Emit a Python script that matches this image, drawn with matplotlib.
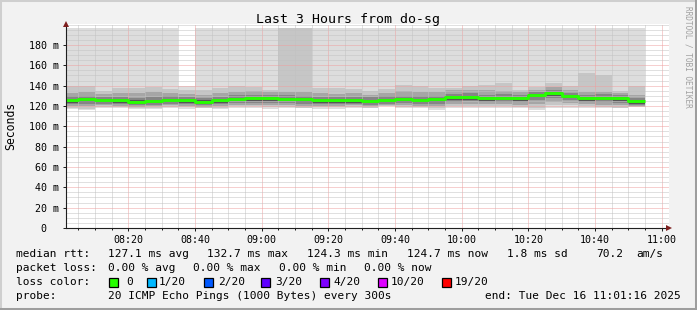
import numpy as np
import matplotlib
matplotlib.use("Agg")
import matplotlib.pyplot as plt
from matplotlib.patches import Rectangle
from matplotlib.lines import Line2D
from matplotlib.ticker import MultipleLocator

# ---------------- data ----------------
title = "Last 3 Hours from do-sg"
window_start = "08:01:16"
window_end = "11:01:16"
upper_limit_ms = 196.7

bin_start = ["08:00", "08:05", "08:10", "08:15", "08:20", "08:25", "08:30", "08:35",
             "08:40", "08:45", "08:50", "08:55", "09:00", "09:05", "09:10", "09:15",
             "09:20", "09:25", "09:30", "09:35", "09:40", "09:45", "09:50", "09:55",
             "10:00", "10:05", "10:10", "10:15", "10:20", "10:25", "10:30", "10:35",
             "10:40", "10:45", "10:50"]
bin_minutes = 5

median_ms = [125.6, 126.4, 126.1, 125.4, 124.3, 125.1, 126.1, 125.9, 124.3, 125.4,
             126.9, 127.5, 127.4, 127.1, 126.4, 125.4, 125.6, 125.5, 125.2, 126.1,
             126.7, 126.1, 126.7, 128.4, 128.7, 127.7, 128.1, 127.7, 130.8, 132.7,
             129.7, 127.7, 127.9, 127.7, 124.7]

# smoke: outermost (lightest) to innermost (darkest) ping ranges
smoke1_top = [200, 200, 200, 200, 200, 200, 200, 139.7, 200, 200, 200, 200, 200, 200,
              200, 200, 200, 200, 200, 200, 200, 200, 200, 200, 200, 200, 200, 200,
              200, 200, 200, 200, 200, 200, 200]
smoke1_bot = [117.5, 116, 118, 118.5, 117, 117, 118, 117.5, 118, 117.5, 118, 118, 117.5,
              118, 118.5, 117.5, 117.5, 118.5, 118.5, 119.5, 118.5, 118, 116.5, 118.5,
              118.5, 118.5, 118.5, 118, 116.5, 118.5, 118.5, 118.5, 118, 118, 119]
smoke2_top = [139.5, 139.5, 134.5, 137.5, 137.5, 138.5, 136.5, 135.5, 135.5, 137.5,
              139.5, 138.5, 136, 200, 200, 137.5, 137.5, 136.5, 135, 136.5, 140.5,
              139.5, 137.5, 137.5, 139.5, 140.5, 142.5, 136, 138.5, 142.5, 139.5,
              152.5, 150.5, 135, 139.5]
smoke2_bot = [118.5, 117.5, 119, 119, 118.5, 118.5, 119, 119, 118.5, 118.5, 119.5,
              119.5, 119, 119, 118.5, 119, 119, 119, 118.5, 119.5, 119, 119, 118,
              119.5, 120, 119.5, 119.5, 119, 118.5, 120.5, 120.5, 119.5, 119, 118.5, 119]
smoke3_top = [133, 134, 131.5, 133, 132.5, 133.5, 133, 132, 131, 133, 134, 134.5, 133.5,
              133.5, 134, 132.5, 132, 132.5, 131, 132.5, 134.5, 134, 133.5, 135.5, 136,
              135.5, 134.5, 133.5, 136, 138.5, 136, 133.5, 134, 133, 131]
smoke3_bot = [120, 120, 120.5, 120, 119, 119.5, 120.5, 120, 119, 120, 121, 121, 121, 121,
              120, 120, 120, 120.5, 119.5, 120.5, 120.5, 120, 119.5, 121.5, 122, 121.5,
              121.5, 121, 121.5, 124, 123, 121.5, 121, 120.5, 119.5]
smoke4_top = [129.5, 130, 129, 129, 128, 128.5, 129.5, 129, 128, 129, 130.5, 131,
              131, 130.5, 130, 129, 129, 129, 128.5, 129.5, 130, 129.5, 130, 132, 132.5,
              131, 131.5, 131, 134, 136, 133, 131, 131.5, 131, 128]
smoke4_bot = [121.5, 122, 122, 121.5, 120.5, 121, 122, 121.5, 120.5, 121.5, 122.5, 123,
              123, 122.5, 122, 121.5, 121.5, 121.5, 121, 122, 122.5, 122, 122, 124, 124.5,
              123.5, 124, 123.5, 126, 128, 125.5, 123.5, 123.5, 123, 121]
smoke5_top = [126.5, 127.5, 127, 126.5, 125.5, 126, 127, 127, 125.5, 126.5, 128, 128.5,
              128.5, 128, 127.5, 126.5, 126.5, 126.5, 126, 127, 127.5, 127, 127.5, 129.5,
              129.5, 128.5, 129, 128.5, 131.5, 133.5, 130.5, 128.5, 129, 128.5, 125.5]
smoke5_bot = [123, 124, 123.5, 123, 122, 122.5, 123.5, 123, 122, 123, 124.5, 125, 125,
              124.5, 124, 123, 123, 123, 122.5, 123.5, 124, 123.5, 123.5, 126, 126, 125,
              125.5, 125, 128.5, 130, 127.5, 125, 125.5, 125, 122]

x_tick_labels = ["08:20", "08:40", "09:00", "09:20", "09:40", "10:00", "10:20", "10:40", "11:00"]
y_ticks = [0, 20, 40, 60, 80, 100, 120, 140, 160, 180]
y_tick_labels = ["0  ", "20 m", "40 m", "60 m", "80 m", "100 m", "120 m", "140 m", "160 m", "180 m"]

rtt_label = "median rtt:"
rtt_items = ["127.1 ms avg", "132.7 ms max", "124.3 ms min", "124.7 ms now", "1.8 ms sd", "70.2", "am/s"]
loss_label = "packet loss:"
loss_items = ["0.00 % avg", "0.00 % max", "0.00 % min", "0.00 % now"]
color_label = "loss color:"
loss_names = ["0", "1/20", "2/20", "3/20", "4/20", "10/20", "19/20"]
loss_colors = ["#26ff00", "#00b8ff", "#0059ff", "#5e00ff", "#7e00ff", "#dd00ff", "#ff0000"]
probe_label = "probe:"
probe_text = "20 ICMP Echo Pings (1000 Bytes) every 300s"
end_text = "end: Tue Dec 16 11:01:16 2025"
watermark = "RRDTOOL / TOBI OETIKER"
y_label = "Seconds"

# ---------------- helpers ----------------
def to_min(s):
    parts = [float(p) for p in s.split(":")]
    v = (parts[0] - 8) * 60 + parts[1]
    if len(parts) > 2:
        v += parts[2] / 60
    return v

W, H, DPI = 697, 310, 100
MONO = "DejaVu Sans Mono"
fig = plt.figure(figsize=(W / DPI, H / DPI), dpi=DPI, facecolor="#f2f2f2")

# plot region in pixels
PX_L, PX_R, PX_B, PX_T = 66, 669, 228, 24
ax = fig.add_axes([PX_L / W, 1 - PX_B / H, (PX_R - PX_L) / W, (PX_B - PX_T) / H])
ax.set_facecolor("white")

t0 = to_min(window_start)
t1 = to_min(window_end)
px_per_min = 600 / (t1 - t0)
ax.set_xlim(t0, t0 + (PX_R - PX_L) / px_per_min)
px_per_ms = 200 / upper_limit_ms
ax.set_ylim(0, (PX_B - PX_T) / px_per_ms)

starts = np.array([to_min(s) for s in bin_start])
med = np.array(median_ms)

levels = [
    (smoke1_bot, smoke1_top, "#dddddd"),
    (smoke2_bot, smoke2_top, "#c6c6c6"),
    (smoke3_bot, smoke3_top, "#a6a6a6"),
    (smoke4_bot, smoke4_top, "#858585"),
    (smoke5_bot, smoke5_top, "#555555"),
]
for bot, top, col in levels:
    bot = np.array(bot, float)
    top = np.minimum(np.array(top, float), upper_limit_ms)
    ax.bar(starts, top - bot, bottom=bot, width=bin_minutes, align="edge",
           color=col, linewidth=0, zorder=1)

xs = np.r_[starts, starts[-1] + bin_minutes]
ys = np.r_[med, med[-1]]
ax.step(xs, ys, where="post", color="#26ff00", lw=2.1, zorder=4, solid_capstyle="butt")

# grid
ax.set_xticks([to_min(l) for l in x_tick_labels], labels=x_tick_labels)
ax.xaxis.set_minor_locator(MultipleLocator(5))
ax.set_yticks(y_ticks, labels=y_tick_labels)
ax.yaxis.set_minor_locator(MultipleLocator(5))
ax.set_axisbelow(False)
ax.grid(which="major", color="#eea0a0", lw=0.72, linestyle=(0, (1, 1)))
ax.grid(which="minor", color="#c2c2c2", lw=0.72, linestyle=(0, (1, 1)))

for sp in ["top", "right"]:
    ax.spines[sp].set_visible(False)
for sp in ["left", "bottom"]:
    ax.spines[sp].set_color("#1f1f1f")
    ax.spines[sp].set_linewidth(0.8)
    ax.spines[sp].set_zorder(5)

ax.tick_params(which="major", length=2.2, width=0.72, color="#1f1f1f", pad=2.5,
               labelsize=7.2, labelfontfamily=MONO)
ax.tick_params(which="minor", length=1.5, width=0.72, color="#1f1f1f")
ax.tick_params(axis="y", which="minor", length=0)

xmax = ax.get_xlim()[1]
ymax = ax.get_ylim()[1]
ax.plot([xmax], [0], marker=">", ms=4.5, color="#7f1f1f", clip_on=False, zorder=6, mew=0)
ax.plot([t0], [ymax], marker="^", ms=4.5, color="#7f1f1f", clip_on=False, zorder=6, mew=0)

# ---------------- texts ----------------
def ftext(x, y, s, **kw):
    kw.setdefault("family", MONO)
    kw.setdefault("fontsize", 8)
    kw.setdefault("va", "center")
    return fig.text(x / W, 1 - y / H, s, **kw)

ftext(347.5, 19, title, fontsize=9.5, ha="center")
ftext(11, 126, y_label, fontsize=8.3, rotation=90, ha="center")
ftext(688, 57, watermark, fontsize=5.6, rotation=270, ha="center", color="#a0a0a0")

ROW = [254, 268, 282, 296]
ftext(16, ROW[0], rtt_label)
for x, s in zip([108, 207, 307, 407, 507, 596, 636], rtt_items):
    ftext(x, ROW[0], s)
ftext(16, ROW[1], loss_label)
for x, s in zip([108, 193, 279, 364], loss_items):
    ftext(x, ROW[1], s)
ftext(16, ROW[2], color_label)
for bx, lx, name, col in zip([109, 147, 204, 261, 320, 378, 442],
                             [126, 159, 218, 275, 333, 391, 455], loss_names, loss_colors):
    fig.add_artist(Rectangle((bx / W, 1 - (ROW[2] + 4.5) / H), 9 / W, 9 / H,
                             transform=fig.transFigure, facecolor=col,
                             edgecolor="black", lw=0.9))
    ftext(lx, ROW[2], name)
ftext(16, ROW[3], probe_label)
ftext(108, ROW[3], probe_text)
ftext(681, ROW[3], end_text, ha="right")

# frame
for (x0, y0, x1, y1, c) in [(0, 0, W, 0, "#cfcfcf"), (0, 0, 0, H, "#cfcfcf"),
                            (0, H, W, H, "#9e9e9e"), (W, 0, W, H, "#9e9e9e")]:
    fig.add_artist(Line2D([x0 / W, x1 / W], [1 - y0 / H, 1 - y1 / H],
                          transform=fig.transFigure, color=c, lw=2.9))

fig.savefig("out.png", dpi=DPI, facecolor=fig.get_facecolor())
